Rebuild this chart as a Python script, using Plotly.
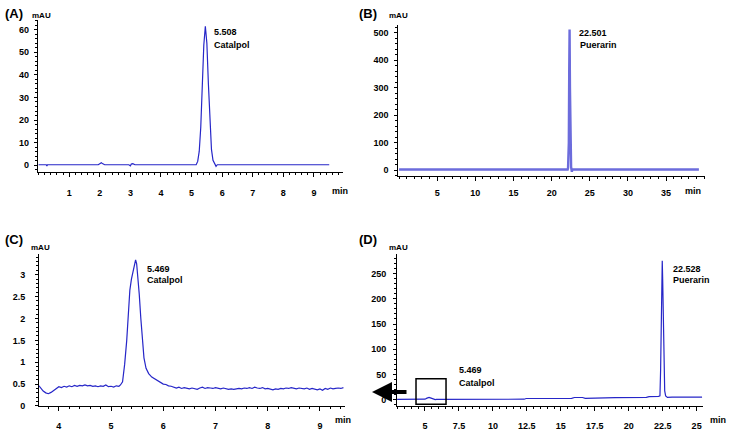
import plotly.graph_objects as go

W, H = 730, 433


def px(x):
    return x / W


def py(y):
    return 1 - y / H


# ---------------- data ----------------
# (A) Catalpol standard
a_time = [0.00, 0.25, 0.27, 0.29, 1.95, 2.00, 2.05, 2.10, 2.16, 2.95, 3.00, 3.03, 3.08,
          3.15, 5.15, 5.20, 5.25, 5.30, 5.35, 5.40, 5.45, 5.50, 5.55, 5.60, 5.65, 5.70,
          5.75, 5.80, 5.84, 9.50]
a_mau = [0.2, 0.2, -0.4, 0.2, 0.2, 0.7, 1.1, 0.6, 0.2, 0.2, -0.3, 0.5, 0.7,
         0.2, 0.2, 1.7, 6.1, 16.7, 34.5, 53.2, 61.5, 54.0, 36.0, 18.0, 7.0, 2.2,
         0.6, -0.5, 0.2, 0.2]

# (B) Puerarin standard
b_time = [0.0, 22.10, 22.15, 22.20, 22.25, 22.30, 22.35, 22.40, 22.45, 22.50, 22.55,
          22.60, 22.65, 22.70, 39.3]
b_mau = [3, 3, 8, 60, 100, 350, 512, 300, 45, 40, 12, 3, -5, 3, 3]

# (C) sample, zoom on catalpol
c_time = [3.62, 3.66, 3.70, 3.75, 3.80, 3.85, 3.90, 3.95, 4.00, 4.05, 4.10, 4.15, 4.20,
          4.25, 4.30, 4.35, 4.40, 4.45, 4.50, 4.55, 4.60, 4.65, 4.70, 4.75, 4.80, 4.85,
          4.90, 4.95, 5.00, 5.05, 5.10, 5.15, 5.18, 5.22, 5.26, 5.30, 5.33, 5.36, 5.39,
          5.42, 5.45, 5.47, 5.49, 5.51, 5.54, 5.57, 5.60, 5.63, 5.67, 5.72, 5.78, 5.84,
          5.90, 5.95, 6.00, 6.05, 6.10, 6.15, 6.20, 6.25, 6.30, 6.35, 6.40, 6.45, 6.50,
          6.55, 6.60, 6.65, 6.70, 6.75, 6.80, 6.85, 6.90, 6.95, 7.00, 7.05, 7.10, 7.15,
          7.20, 7.25, 7.30, 7.35, 7.40, 7.45, 7.50, 7.55, 7.60, 7.65, 7.70, 7.75, 7.80,
          7.85, 7.90, 7.95, 8.00, 8.05, 8.10, 8.15, 8.20, 8.25, 8.30, 8.35, 8.40, 8.45,
          8.50, 8.55, 8.60, 8.65, 8.70, 8.75, 8.80, 8.85, 8.90, 8.95, 9.00, 9.05, 9.10,
          9.15, 9.20, 9.25, 9.30, 9.35, 9.40, 9.45]
c_mau = [0.46, 0.40, 0.34, 0.30, 0.28, 0.31, 0.35, 0.40, 0.44, 0.42, 0.45, 0.43, 0.46,
         0.44, 0.47, 0.45, 0.47, 0.46, 0.48, 0.46, 0.47, 0.45, 0.46, 0.44, 0.46, 0.45,
         0.48, 0.44, 0.45, 0.43, 0.46, 0.45, 0.48, 0.55, 0.95, 1.50, 2.10, 2.65, 2.90,
         3.10, 3.30, 3.34, 3.25, 3.02, 2.55, 2.00, 1.45, 1.10, 0.86, 0.74, 0.66, 0.62,
         0.58, 0.53, 0.50, 0.49, 0.46, 0.45, 0.43, 0.41, 0.43, 0.40, 0.42, 0.41, 0.39,
         0.41, 0.40, 0.38, 0.41, 0.43, 0.40, 0.42, 0.41, 0.40, 0.42, 0.40, 0.39, 0.41,
         0.40, 0.38, 0.39, 0.38, 0.39, 0.40, 0.39, 0.41, 0.40, 0.42, 0.40, 0.43, 0.41,
         0.40, 0.42, 0.39, 0.40, 0.38, 0.37, 0.39, 0.38, 0.40, 0.39, 0.41, 0.40, 0.42,
         0.40, 0.39, 0.41, 0.40, 0.39, 0.41, 0.38, 0.40, 0.38, 0.37, 0.39, 0.36, 0.40,
         0.38, 0.41, 0.39, 0.40, 0.41, 0.40, 0.42]

# (D) sample, full run
d_time = [2.95, 4.50, 5.00, 5.15, 5.30, 5.45, 5.60, 5.75, 5.85, 8.00, 10.00, 12.30, 12.45,
          14.00, 15.80, 16.00, 16.30, 16.60, 16.80, 17.70, 17.85, 19.00, 21.30, 21.50,
          22.20, 22.30, 22.35, 22.40, 22.44, 22.47, 22.50, 22.53, 22.56, 22.60, 22.65,
          22.72, 22.85, 23.20, 25.40]
d_mau = [1.2, 1.2, 1.5, 3.5, 5.0, 3.5, 1.5, 0.5, 1.2, 1.2, 1.3, 1.4, 2.8,
         3.0, 3.0, 4.8, 5.5, 4.8, 3.2, 3.2, 4.6, 4.6, 5.0, 6.5,
         7.0, 8.0, 60, 200, 265, 275, 240, 170, 100, 42, 18,
         8, 5, 5.5, 5.5]

# tick labels
a_xticks = [1, 2, 3, 4, 5, 6, 7, 8, 9]
a_yticks = [0, 10, 20, 30, 40, 50, 60]
b_xticks = [5, 10, 15, 20, 25, 30, 35]
b_yticks = [0, 100, 200, 300, 400, 500]
c_xticks = [4, 5, 6, 7, 8, 9]
c_yticks = [0, 0.5, 1, 1.5, 2, 2.5, 3]
d_xticks = [5, 7.5, 10, 12.5, 15, 17.5, 20, 22.5, 25]
d_yticks = [0, 50, 100, 150, 200, 250]

# peak labels
a_peak = ["5.508", "Catalpol"]
b_peak = ["22.501", "Puerarin"]
c_peak = ["5.469", "Catalpol"]
d_peak1 = ["5.469", "Catalpol"]
d_peak2 = ["22.528", "Puerarin"]

# ---------------- figure ----------------
fig = go.Figure()
BLUE = "#2626c8"
fig.add_trace(go.Scatter(x=a_time, y=a_mau, mode="lines", line=dict(color=BLUE, width=1.2),
                         xaxis="x", yaxis="y", showlegend=False, hoverinfo="skip"))
fig.add_trace(go.Scatter(x=b_time, y=b_mau, mode="lines", line=dict(color="#6c6cdc", width=2.4),
                         xaxis="x2", yaxis="y2", showlegend=False, hoverinfo="skip"))
fig.add_trace(go.Scatter(x=c_time, y=c_mau, mode="lines", line=dict(color=BLUE, width=1.2),
                         xaxis="x3", yaxis="y3", showlegend=False, hoverinfo="skip"))
fig.add_trace(go.Scatter(x=d_time, y=d_mau, mode="lines", line=dict(color=BLUE, width=1.2),
                         xaxis="x4", yaxis="y4", showlegend=False, hoverinfo="skip"))

TICKFONT = dict(family="Liberation Sans", size=9, color="black", weight="bold")


def xax(dom, rng, ticks, anchor, minor_dt, standoff):
    return dict(domain=dom, range=rng, anchor=anchor, tickvals=ticks, showgrid=False,
                zeroline=False, showline=True, linecolor="black", linewidth=1,
                ticks="outside", ticklen=4, tickwidth=1, tickcolor="black",
                tickfont=TICKFONT, ticklabelstandoff=standoff, fixedrange=True,
                minor=dict(dtick=minor_dt, ticks="outside", ticklen=2, tickcolor="black",
                           showgrid=False))


def yax(dom, rng, ticks, anchor, minor_dt, standoff):
    return dict(domain=dom, range=rng, anchor=anchor, tickvals=ticks, showgrid=False,
                zeroline=False, showline=True, linecolor="black", linewidth=1,
                ticks="outside", ticklen=3, tickwidth=1, tickcolor="black",
                tickfont=TICKFONT, ticklabelstandoff=standoff, fixedrange=True,
                minor=dict(dtick=minor_dt, ticks="outside", ticklen=2, tickcolor="black",
                           showgrid=False))


fig.update_layout(
    width=W, height=H, margin=dict(l=0, r=0, t=0, b=0),
    paper_bgcolor="white", plot_bgcolor="white",
    xaxis=xax([px(37.7), px(343)], [-0.03, 9.95], a_xticks, "y", 0.2, 8),
    yaxis=yax([py(174), py(20)], [-3, 64.4], a_yticks, "x", 2, 3),
    xaxis2=xax([px(398.3), px(705)], [-0.1, 40.1], b_xticks, "y2", 1, 4),
    yaxis2=yax([py(178.3), py(25)], [-21.5, 529], b_yticks, "x2", 20, 4),
    xaxis3=xax([px(39), px(345)], [3.62, 9.48], c_xticks, "y3", 0.2, 7),
    yaxis3=yax([py(410.7), py(256.7)], [0, 3.48], c_yticks, "x3", 0.1, 8),
    xaxis4=xax([px(397), px(703)], [2.94, 25.47], d_xticks, "y4", 0.5, 7),
    yaxis4=yax([py(410.7), py(257)], [-11.9, 288.3], d_yticks, "x4", 10, 5),
)

anns = []


def text(t, x, y, size=9, bold=True, xanchor="left"):
    anns.append(dict(text=f"<b>{t}</b>" if bold else t, x=px(x), y=py(y), xref="paper",
                     yref="paper", xanchor=xanchor, yanchor="middle", showarrow=False,
                     font=dict(family="Liberation Sans", size=size, color="black")))


# panel letters and units
text("(A)", 3, 14, 13)
text("mAU", 30, 15.6, 8)
text("(B)", 357, 14, 13)
text("mAU", 386.5, 15.6, 8)
text("(C)", 3, 242.5, 13)
text("mAU", 29, 250.7, 8)
text("(D)", 357, 242.5, 13)
text("mAU", 386.5, 250.5, 8)

# "min" axis units
text("min", 340, 193, 9, xanchor="center")
text("min", 693, 193, 9, xanchor="center")
text("min", 343, 425, 9, xanchor="center")
text("min", 718, 425, 9, xanchor="center")

# peak labels
text(a_peak[0], 212.3, 32.7, 9)
text(a_peak[1], 212.3, 45.5, 9)
text(b_peak[0], 576.7, 33.3, 9)
text(b_peak[1], 578.3, 45.5, 9)
text(c_peak[0], 145, 271.7, 9)
text(c_peak[1], 145, 283, 9)
text(d_peak2[0], 670.7, 271.7, 9)
text(d_peak2[1], 670.7, 283, 9)
text(d_peak1[0], 457.3, 374, 9)
text(d_peak1[1], 457.3, 387.7, 9)

# arrow pointing from the boxed region in (D) to panel (C)
anns.append(dict(x=px(372), y=py(396.7), xref="paper", yref="paper", ax=36, ay=0,
                 axref="pixel", ayref="pixel", text="", showarrow=True, arrowhead=2,
                 arrowsize=1.0, arrowwidth=4, arrowcolor="black"))

fig.update_layout(annotations=anns)

fig.add_shape(type="rect", xref="x4", yref="y4", x0=4.34, x1=6.55, y0=-8.6, y1=42,
              line=dict(color="black", width=1.5), fillcolor="rgba(0,0,0,0)")

fig.write_html("out.html", config={"displayModeBar": False, "staticPlot": True},
               post_script="document.body.style.margin='0';document.body.style.padding='0';")
